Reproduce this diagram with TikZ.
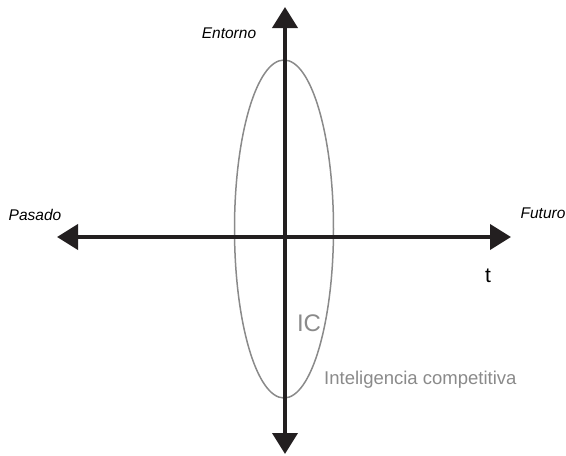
\documentclass[tikz,border=0pt]{standalone}
\usepackage{fontspec}
\setmainfont{Liberation Sans}
\usetikzlibrary{arrows.meta}
\definecolor{axisblack}{HTML}{231F20}
\definecolor{icgray}{HTML}{8A8A8A}
\begin{document}
\begin{tikzpicture}[x=1pt, y=-1pt, >={Triangle[length=21pt,width=25pt]},
		axis/.style={->, line width=4pt, axisblack},
		label/.style={font=\fontsize{15.5}{18}\selectfont\itshape, inner sep=0pt},
		iclabel/.style={text=icgray, inner sep=0pt}]
			\useasboundingbox (0,0) rectangle (566,456);
			% axis ends
			\coordinate (origin) at (285,237);
			\coordinate (past) at (57,237);
			\coordinate (future) at (511,237);
			\coordinate (top) at (285,7);
			\coordinate (bottom) at (285,454);
			% competitive intelligence
			\draw[icgray, line width=1.5pt] (284,229) ellipse [x radius=49.5pt, y radius=169pt];
			\draw[axis] (origin) -- (past);
			\draw[axis] (origin) -- (future);
			\draw[axis] (origin) -- (top);
			\draw[axis] (origin) -- (bottom);
			\node[label] (entorno) at (229,33) {Entorno};
			\node[label] (pasado) at (35,215) {Pasado};
			\node[label] (futuro) at (543,213) {Futuro};
			\node[inner sep=0pt, anchor=base, font=\fontsize{21}{24}\selectfont] (t) at (488,282) {t};
			\node[iclabel, font=\fontsize{24}{28}\selectfont] (ic) at (309,323) {IC};
			\node[iclabel, anchor=west, font=\fontsize{18.5}{22}\selectfont] (intel) at (324,380) {Inteligencia competitiva};
		\end{tikzpicture}
\end{document}
